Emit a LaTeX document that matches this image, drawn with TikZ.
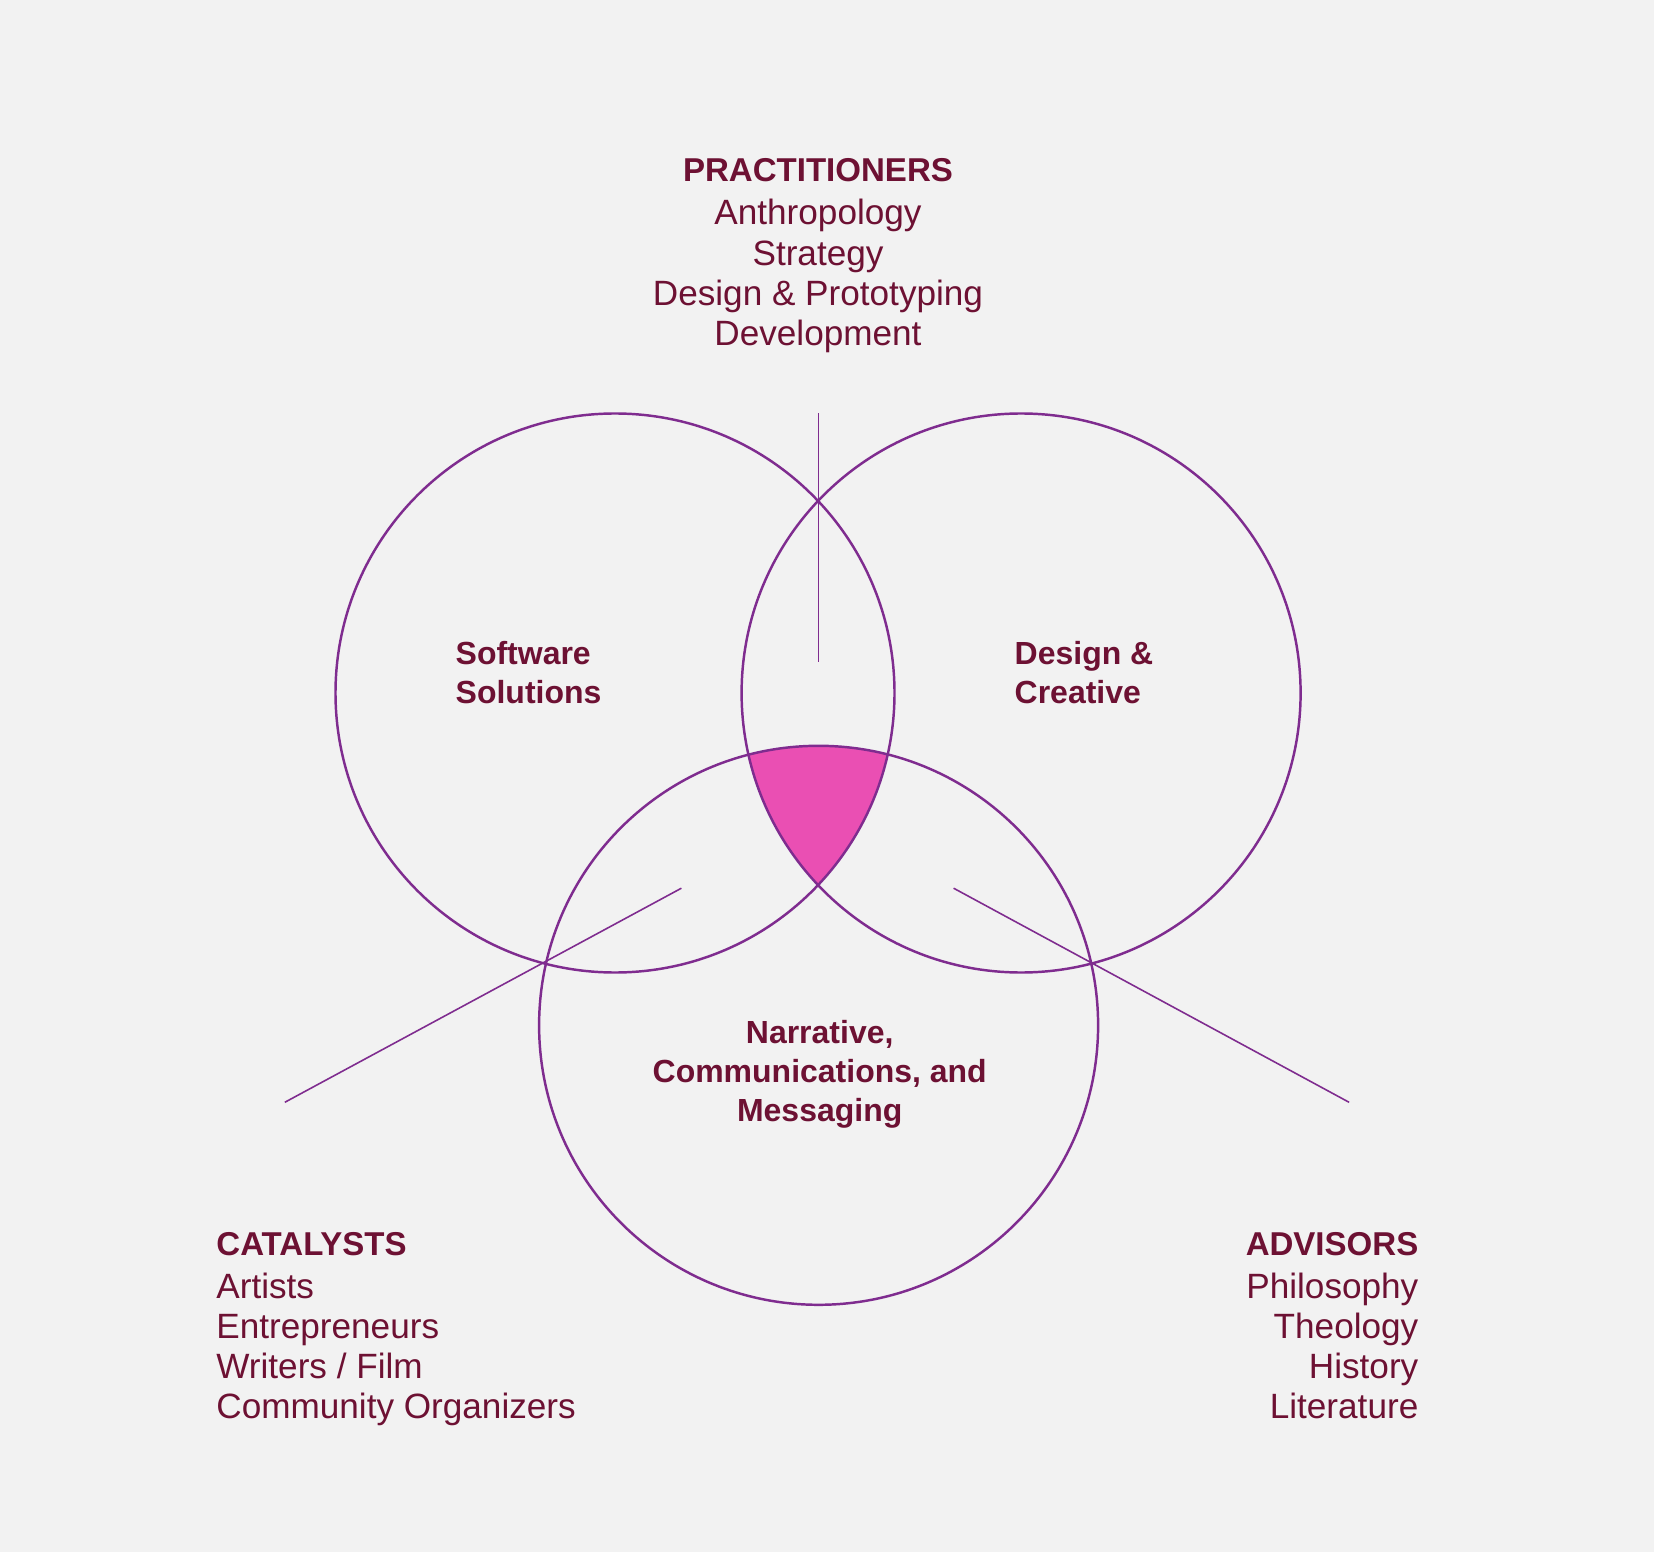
\documentclass[tikz,border=0pt]{standalone}
\usepackage{fontspec}
\setmainfont{Liberation Sans}
\usepackage{tikz}
\definecolor{venn-bg}{HTML}{F2F2F2}
\definecolor{venn-text}{HTML}{6D1133}
\definecolor{venn-line}{HTML}{7F2C8F}
\definecolor{venn-core}{HTML}{EA4FB3}
\tikzset{
  ring/.style={venn-line,line width=0.7pt},
  leader/.style={venn-line,line width=0.45pt},
  grouplist/.style={venn-text,inner sep=0pt,font=\fontsize{10}{11.4}\selectfont},
  ringlabel/.style={venn-text,inner sep=0pt,font=\bfseries\fontsize{9.1}{11.2}\selectfont},
}
\newcommand{\grouphead}[1]{{\bfseries\fontsize{9.4}{11.4}\selectfont #1}}

\begin{document}
\begin{tikzpicture}
  \fill[venn-bg] (0,0) rectangle (16.54,15.52);

  % circle centres
  \coordinate (software) at (6.150,8.590);
  \coordinate (design) at (10.211,8.590);
  \coordinate (narrative) at (8.186,5.267);

  % shared core
  \begin{scope}
    \clip (software) circle (2.795);
    \clip (design) circle (2.795);
    \fill[venn-core] (narrative) circle (2.795);
  \end{scope}
  \draw[ring] (software) circle (2.795);
  \draw[ring] (design) circle (2.795);
  \draw[ring] (narrative) circle (2.795);

  % leader lines
  \coordinate (prac-top) at (8.186,11.385);
  \coordinate (prac-end) at (8.186,8.896);
  \coordinate (cat-far) at (2.848,4.497);
  \coordinate (cat-near) at (6.814,6.638);
  \coordinate (adv-near) at (9.536,6.638);
  \coordinate (adv-far) at (13.491,4.497);
  \draw[leader] (prac-top) -- (prac-end);
  \draw[leader] (cat-far) -- (cat-near);
  \draw[leader] (adv-near) -- (adv-far);

  \node[ringlabel,align=left,anchor=north west] (software-label) at (4.55,9.113) {Software\\Solutions};
  \node[ringlabel,align=left,anchor=north west] (design-label) at (10.14,9.113) {Design \&\\Creative};
  \node[ringlabel,align=center,anchor=north] (narrative-label) at (8.197,5.327) {Narrative,\\Communications, and\\Messaging};

  \node[grouplist,align=center,anchor=north] (practitioners) at (8.18,13.94)
    {\grouphead{PRACTITIONERS}\\[0.9pt]Anthropology\\Strategy\\Design \& Prototyping\\Development};
  \node[grouplist,align=left,anchor=north west] (catalysts) at (2.157,3.203)
    {\grouphead{CATALYSTS}\\[0.9pt]Artists\\Entrepreneurs\\Writers / Film\\Community Organizers};
  \node[grouplist,align=right,anchor=north east] (advisors) at (14.19,3.203)
    {\grouphead{ADVISORS}\\[0.9pt]Philosophy\\Theology\\History\\Literature};
\end{tikzpicture}
\end{document}
